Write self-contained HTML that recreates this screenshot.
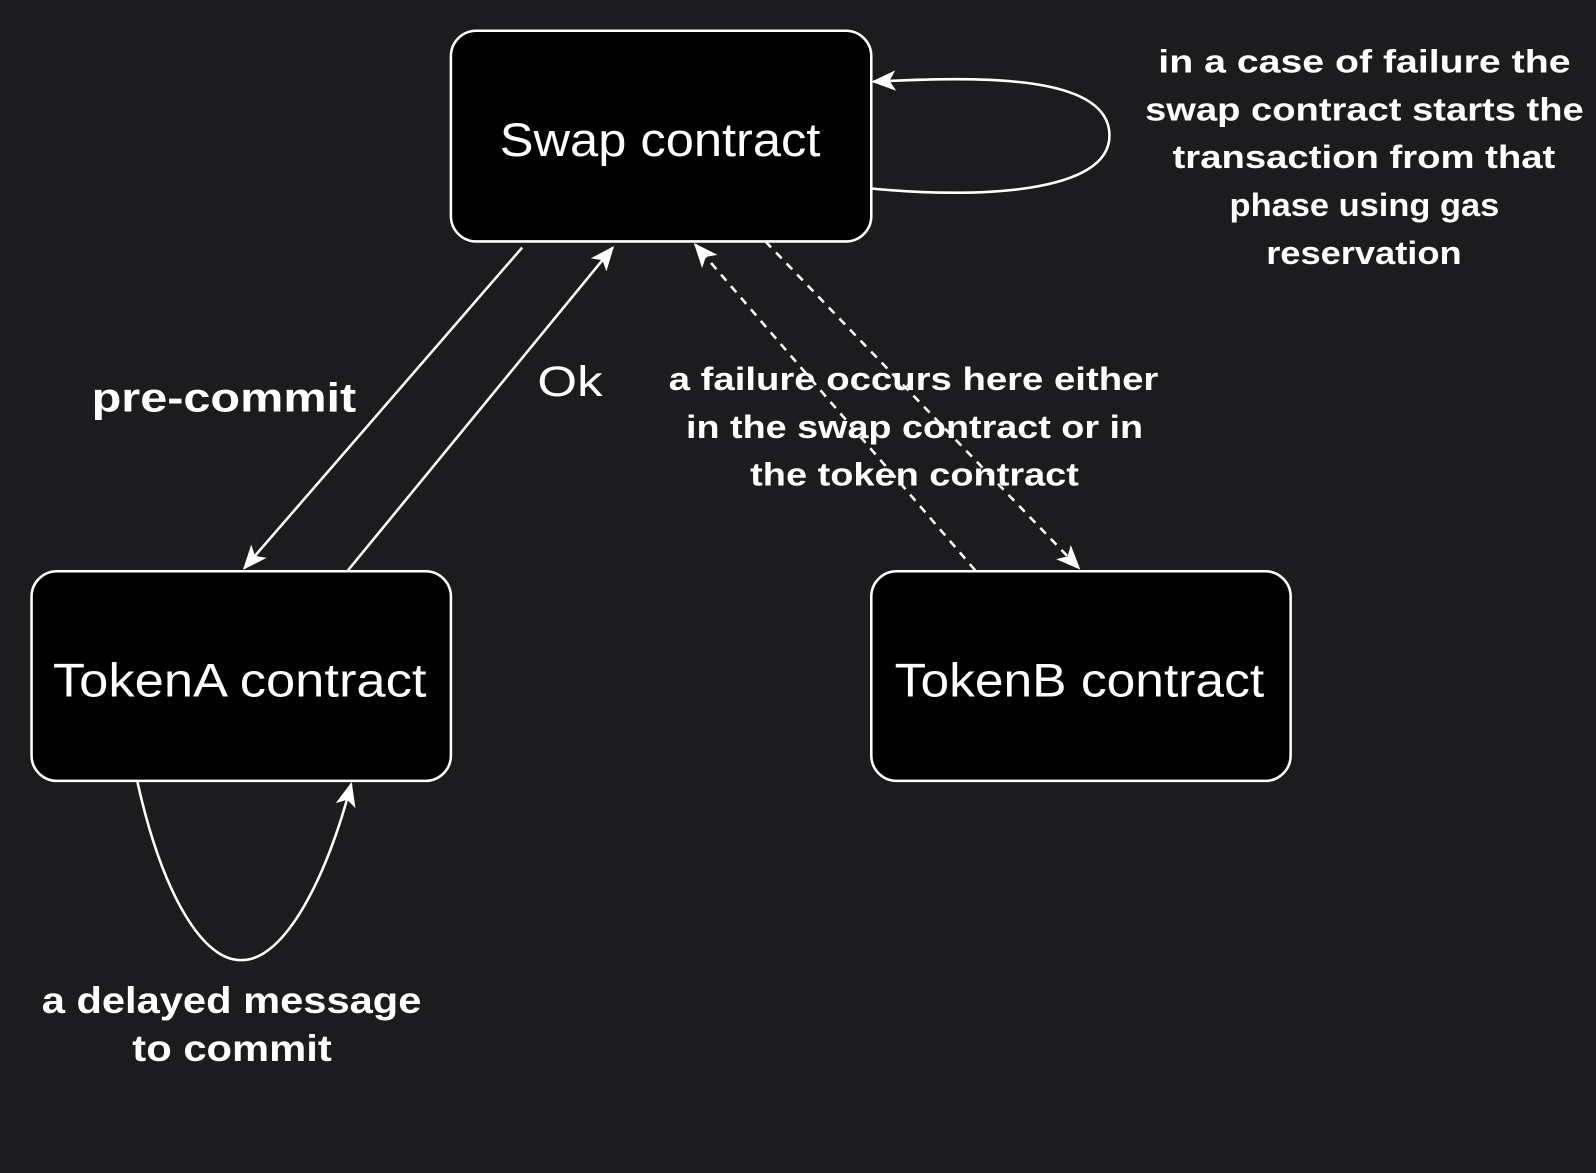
<!DOCTYPE html>
<html><head><style>
html,body{margin:0;padding:0;background:#1c1c1e;}
svg{display:block;}
text{font-family:"Liberation Sans",sans-serif;fill:#fff;}
</style></head><body>
<svg width="1596" height="1173" viewBox="0 0 1568 1152" xmlns="http://www.w3.org/2000/svg">
<defs>
<marker id="ah" viewBox="0 0 24 24" refX="22" refY="12" markerWidth="24" markerHeight="24" markerUnits="userSpaceOnUse" orient="auto">
<path d="M0,2 L24,12 L0,22 L6,12 Z" fill="#fff"/>
</marker>
</defs>
<rect width="1568" height="1152" fill="#1c1c1e"/>
<rect x="443" y="30" width="413" height="207" rx="25" fill="#000" stroke="#fff" stroke-width="2.5"/>
<rect x="31" y="561" width="412" height="206" rx="25" fill="#000" stroke="#fff" stroke-width="2.5"/>
<rect x="856" y="561" width="412" height="206" rx="25" fill="#000" stroke="#fff" stroke-width="2.5"/>
<g font-size="46" lengthAdjust="spacingAndGlyphs">
<text x="491" y="153" textLength="315" lengthAdjust="spacingAndGlyphs">Swap contract</text>
<text x="52" y="684" textLength="367" lengthAdjust="spacingAndGlyphs">TokenA contract</text>
<text x="879" y="684" textLength="363" lengthAdjust="spacingAndGlyphs">TokenB contract</text>
</g>
<g stroke="#fff" stroke-width="2.5" fill="none">
<line x1="513" y1="243" x2="240" y2="558" marker-end="url(#ah)"/>
<line x1="342" y1="560" x2="602" y2="243" marker-end="url(#ah)"/>
<line x1="752" y1="237" x2="1060" y2="558" stroke-dasharray="8,7" marker-end="url(#ah)"/>
<line x1="958" y1="560" x2="683" y2="240" stroke-dasharray="8,7" marker-end="url(#ah)"/>
<path d="M856,185 C960,195 1090,190 1090,133 C1090,72 960,75 858,80" marker-end="url(#ah)"/>
<path d="M135,768 C160,880 200,945 238,943 C280,943 322,860 345,770" marker-end="url(#ah)"/>
</g>
<text x="90" y="404" font-size="40" font-weight="bold" textLength="260" lengthAdjust="spacingAndGlyphs">pre-commit</text>
<text x="528" y="389" font-size="42" textLength="64" lengthAdjust="spacingAndGlyphs">Ok</text>
<g font-size="32" font-weight="bold">
<text x="657" y="383" textLength="481" lengthAdjust="spacingAndGlyphs">a failure occurs here either</text>
<text x="674" y="430" textLength="449" lengthAdjust="spacingAndGlyphs">in the swap contract or in</text>
<text x="737" y="477" textLength="323" lengthAdjust="spacingAndGlyphs">the token contract</text>
<text x="1138" y="71" textLength="405" lengthAdjust="spacingAndGlyphs">in a case of failure the</text>
<text x="1125" y="118" textLength="431" lengthAdjust="spacingAndGlyphs">swap contract starts the</text>
<text x="1152" y="165" textLength="376" lengthAdjust="spacingAndGlyphs">transaction from that</text>
<text x="1208" y="212" textLength="265" lengthAdjust="spacingAndGlyphs">phase using gas</text>
<text x="1244" y="259" textLength="192" lengthAdjust="spacingAndGlyphs">reservation</text>
</g>
<g font-size="36" font-weight="bold">
<text x="41" y="995" textLength="373" lengthAdjust="spacingAndGlyphs">a delayed message</text>
<text x="130" y="1042" textLength="196" lengthAdjust="spacingAndGlyphs">to commit</text>
</g>
</svg>
</body></html>
